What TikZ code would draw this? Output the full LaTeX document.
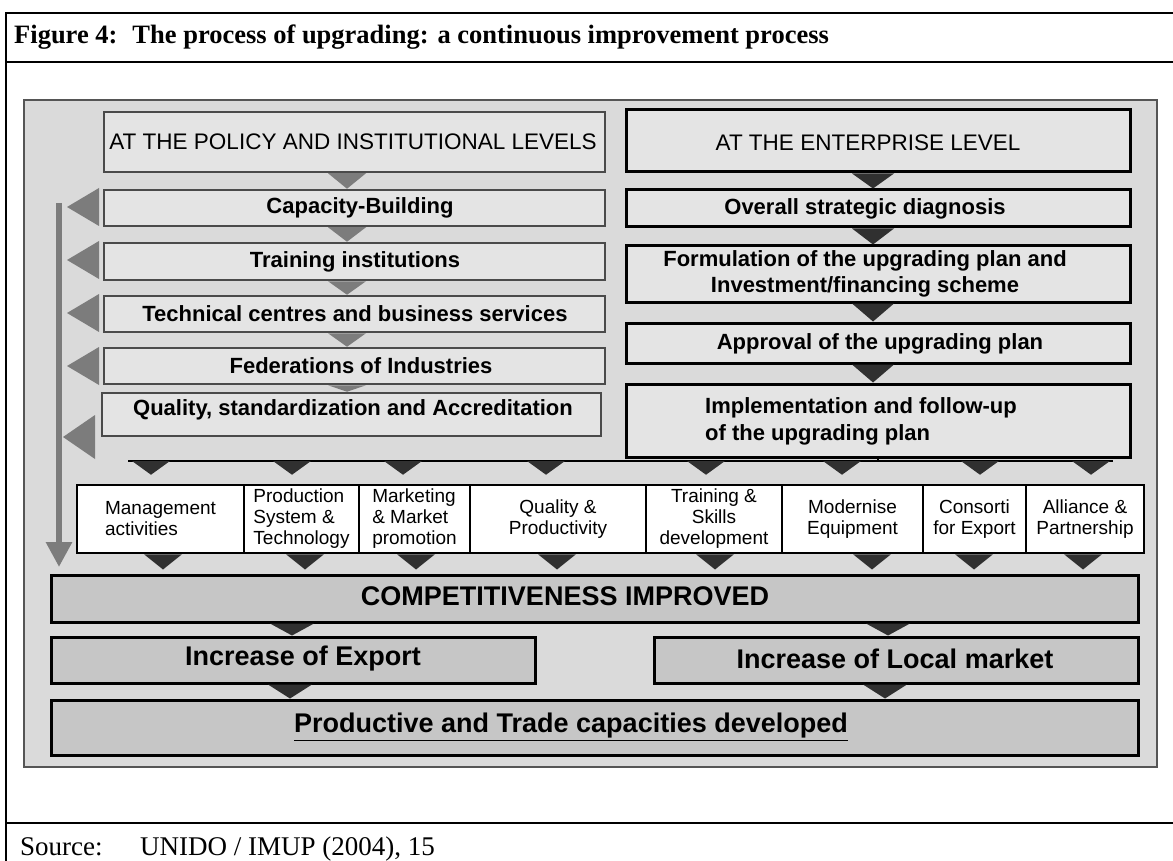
\documentclass[tikz,border=0pt]{standalone}
\usepackage{fontspec}
\setmainfont{Liberation Serif}
\newfontfamily\arialf{Liberation Sans}
\usetikzlibrary{arrows.meta,calc}
\definecolor{panelbg}{HTML}{DADADA}
\definecolor{upbox}{HTML}{E4E4E4}
\definecolor{lowbox}{HTML}{C6C6C6}
\definecolor{lborder}{HTML}{4A4A4A}
\definecolor{midgray}{HTML}{7C7C7C}
\definecolor{darktri}{HTML}{303030}
\definecolor{panelborder}{HTML}{555555}
\newcommand\contri[6]{% style, x, from, to, halfwidth, gap
  \fill[#1] let \p1=(#3), \p2=(#4) in
    ({(#2-#5)*1pt},\y1) -- ({(#2+#5)*1pt},\y1) -- ({#2*1pt},{\y2+#6pt}) -- cycle;}
\newcommand\lefttri[5]{% node, yoffset, halfheight, base x, tip x
  \fill[gtri] let \p1=(#1.west) in
    ({#4pt},{\y1-#2pt+#3pt}) -- ({#4pt},{\y1-#2pt-#3pt}) -- ({#5pt},{\y1-#2pt}) -- cycle;}
\begin{document}
\begin{tikzpicture}[x=1pt,y=-1pt,
  frameline/.style={line width=2.5pt, black},
  lbox/.style={draw=lborder, line width=2.5pt, fill=upbox, inner sep=0pt},
  rbox/.style={draw=black, line width=3pt, fill=upbox, inner sep=0pt},
  cellbox/.style={draw=black, line width=2.5pt, fill=white, inner sep=0pt,
    font=\arialf\fontsize{19}{21}\selectfont},
  bbox/.style={draw=black, line width=3pt, fill=lowbox, inner sep=0pt},
  upbold/.style={inner sep=0pt, font=\arialf\bfseries\fontsize{22}{26}\selectfont},
  upreg/.style={inner sep=0pt, font=\arialf\fontsize{22.5}{26}\selectfont},
  lowbold/.style={inner sep=0pt, font=\arialf\bfseries\fontsize{27}{30}\selectfont},
  gtri/.style={fill=midgray},
  dtri/.style={fill=darktri},
  garrow/.style={draw=midgray, line width=6pt, -{Triangle[width=25pt,length=25pt]}},
  hline/.style={draw=black, line width=2.5pt}
]
\useasboundingbox (0,0) rectangle (1173,861);
\fill[white] (0,0) rectangle (1173,861);
% outer frame
\draw[frameline] (1173,13) -- (6,13) -- (6,861);
\draw[frameline] (6,62) -- (1173,62);
\draw[frameline] (6,823) -- (1173,823);
\node[anchor=base west, inner sep=0pt, font=\bfseries\fontsize{26.5}{30}\selectfont] (title) at (14,44)
  {Figure 4:\hspace{15pt}The process of upgrading: a continuous improvement process};
\node[anchor=base west, inner sep=0pt, font=\fontsize{27}{30}\selectfont] (src) at (20,855) {Source:};
\node[anchor=base west, inner sep=0pt, font=\fontsize{27}{30}\selectfont] (srcref) at (140,855) {UNIDO / IMUP (2004), 15};
% panel
\filldraw[fill=panelbg, draw=panelborder, line width=2pt] (24,100) rectangle (1157,767);
% left column
\node[lbox, minimum width=501, minimum height=60] (policy) at (354.5,142) {};
\node[lbox, minimum width=501, minimum height=36] (cap) at (354.5,208) {};
\node[lbox, minimum width=501, minimum height=37] (train) at (354.5,261.5) {};
\node[lbox, minimum width=501, minimum height=36] (tech) at (354.5,314) {};
\node[lbox, minimum width=501, minimum height=36] (fed) at (354.5,366) {};
\node[lbox, minimum width=499, minimum height=43] (qual) at (351.5,414.5) {};
\node[upreg] (policyT) at (353,142) {AT THE POLICY AND INSTITUTIONAL LEVELS};
\node[upbold] (capT) at (360,208) {Capacity-Building};
\node[upbold] (trainT) at (355,262) {Training institutions};
\node[upbold] (techT) at (355,314) {Technical centres and business services};
\node[upbold] (fedT) at (361,366) {Federations of Industries};
\node[upbold] (qualT) at (353,410) {Quality, standardization and Accreditation};
% right column
\node[rbox, minimum width=504, minimum height=62] (ent) at (878,141) {};
\node[rbox, minimum width=504, minimum height=37] (overall) at (878,208.5) {};
\node[rbox, minimum width=504, minimum height=56] (form) at (878,274) {};
\node[rbox, minimum width=504, minimum height=40] (appr) at (878,343) {};
\node[rbox, minimum width=504, minimum height=73] (impl) at (878,420.5) {};
\node[upreg] (entT) at (868,143) {AT THE ENTERPRISE LEVEL};
\node[upbold] (overallT) at (865,209) {Overall strategic diagnosis};
\node[upbold, align=center] (formT) at (865,274) {Formulation of the upgrading plan and\\Investment/financing scheme};
\node[upbold] (apprT) at (880,344) {Approval of the upgrading plan};
\node[upbold, align=left, anchor=west, font=\arialf\bfseries\fontsize{22}{27}\selectfont] (implT) at (705,421) {Implementation and follow-up\\of the upgrading plan};
% connecting line
\coordinate (hlL) at (128,461);
\coordinate (hlR) at (1113,461);
\draw[hline] (hlL) -- (hlR);
\draw[hline] (impl.south) -- (impl.south |- hlL);
% middle row
\node[cellbox, minimum width=167, minimum height=68, align=left] (mgmt) at (160.5,519) {Management\\activities};
\node[cellbox, minimum width=115, minimum height=68, align=left] (prod) at (301.5,519) {Production\\System \&\\Technology};
\node[cellbox, minimum width=111, minimum height=68, align=left] (mkt) at (414.5,519) {Marketing\\\& Market\\promotion};
\node[cellbox, minimum width=176, minimum height=68, align=center] (qp) at (558,519) {Quality \&\\Productivity};
\node[cellbox, minimum width=136, minimum height=68, align=center] (tsd) at (714,519) {Training \&\\Skills\\development};
\node[cellbox, minimum width=141, minimum height=68, align=center] (mod) at (852.5,519) {Modernise\\Equipment};
\node[cellbox, minimum width=103, minimum height=68, align=center] (cons) at (974.5,519) {Consorti\\for Export};
\node[cellbox, minimum width=118, minimum height=68, align=center] (all) at (1085,519) {Alliance \&\\Partnership};
% bottom boxes
\node[bbox, minimum width=1087, minimum height=47] (comp) at (594.5,598.5) {};
\node[bbox, minimum width=484, minimum height=46] (exp) at (293,660) {};
\node[bbox, minimum width=484, minimum height=46] (loc) at (896,660) {};
\node[bbox, minimum width=1087, minimum height=55] (pt) at (594.5,727.5) {};
\node[lowbold] (compT) at (565,596) {COMPETITIVENESS IMPROVED};
\node[lowbold] (expT) at (303,659) {Increase of Export};
\node[lowbold] (locT) at (895,659) {Increase of Local market};
\node[lowbold] (ptT) at (571,727) {\underline{Productive and Trade capacities developed}};
% left column triangles
\contri{gtri}{347}{policy.south}{cap.north}{19}{0}
\contri{gtri}{347}{cap.south}{train.north}{19}{0}
\contri{gtri}{347}{train.south}{tech.north}{19}{0}
\contri{gtri}{347}{tech.south}{fed.north}{19}{0}
\contri{gtri}{347}{fed.south}{qual.north}{19}{0}
% right column triangles
\contri{dtri}{873}{ent.south}{overall.north}{21}{0}
\contri{dtri}{873}{overall.south}{form.north}{21}{0}
\contri{dtri}{873}{form.south}{appr.north}{21}{0}
\contri{dtri}{873}{appr.south}{impl.north}{21}{0}
% triangles from line to cells
\contri{dtri}{151}{hlL}{mgmt.north}{19}{9}
\contri{dtri}{292}{hlL}{prod.north}{19}{9}
\contri{dtri}{403}{hlL}{mkt.north}{19}{9}
\contri{dtri}{546}{hlL}{qp.north}{19}{9}
\contri{dtri}{706}{hlL}{tsd.north}{19}{9}
\contri{dtri}{842}{hlL}{mod.north}{19}{9}
\contri{dtri}{980}{hlL}{cons.north}{19}{9}
\contri{dtri}{1091}{hlL}{all.north}{19}{9}
% triangles from cells to competitiveness
\contri{dtri}{163}{mgmt.south}{comp.north}{19}{4}
\contri{dtri}{305}{prod.south}{comp.north}{19}{4}
\contri{dtri}{416}{mkt.south}{comp.north}{19}{4}
\contri{dtri}{557}{qp.south}{comp.north}{19}{4}
\contri{dtri}{715}{tsd.south}{comp.north}{19}{4}
\contri{dtri}{872}{mod.south}{comp.north}{19}{4}
\contri{dtri}{974}{cons.south}{comp.north}{19}{4}
\contri{dtri}{1083}{all.south}{comp.north}{19}{4}
% lower triangles
\contri{dtri}{292}{comp.south}{exp.north}{22}{0}
\contri{dtri}{888}{comp.south}{loc.north}{22}{0}
\contri{dtri}{290}{exp.south}{pt.north}{22}{0}
\contri{dtri}{885}{loc.south}{pt.north}{22}{0}
% left pointing arrows
\lefttri{cap}{-1}{19}{99}{67}
\lefttri{train}{-1.5}{19}{99}{67}
\lefttri{tech}{-1}{19}{99}{67}
\lefttri{fed}{0}{19}{99}{67}
\lefttri{qual}{22.5}{22}{95}{63}
% vertical feedback arrow
\coordinate (vtop) at (59,203);
\coordinate (vbot) at (59,567);
\draw[garrow] (vtop) -- (vbot);
\end{tikzpicture}
\end{document}
